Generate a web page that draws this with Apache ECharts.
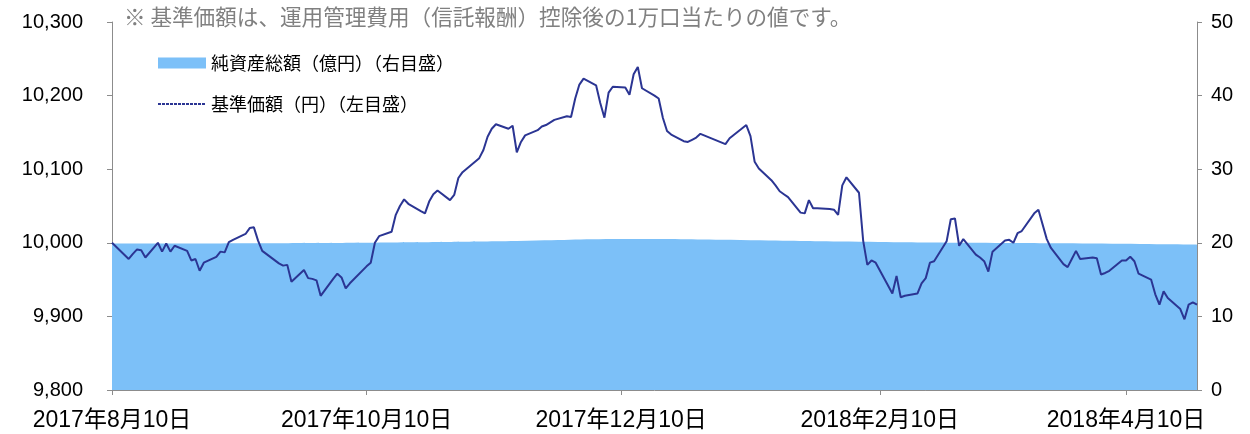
<!DOCTYPE html>
<html>
<head>
<meta charset="utf-8">
<script src="https://cdn.jsdelivr.net/npm/echarts@6/dist/echarts.min.js"></script>
<style>
html, body { margin: 0; padding: 0; background: #fff; }
#chart { width: 1250px; height: 434px; }
</style>
</head>
<body>
<div id="chart"></div>
<script>
// 営業日（月ごとの日付）
const tradingDays = [
  ['2017-08', [10, 14, 15, 16, 17, 18, 21, 22, 23, 24, 25, 28, 29, 30, 31]],
  ['2017-09', [1, 4, 5, 6, 7, 8, 11, 12, 13, 14, 15, 19, 20, 21, 22, 25, 26, 27, 28, 29]],
  ['2017-10', [2, 3, 4, 5, 6, 10, 11, 12, 13, 16, 17, 18, 19, 20, 23, 24, 25, 26, 27, 30, 31]],
  ['2017-11', [1, 2, 6, 7, 8, 9, 10, 13, 14, 15, 16, 17, 20, 21, 22, 24, 27, 28, 29, 30]],
  ['2017-12', [1, 4, 5, 6, 7, 8, 11, 12, 13, 14, 15, 18, 19, 20, 21, 22, 25, 26, 27, 28, 29]],
  ['2018-01', [4, 5, 9, 10, 11, 12, 15, 16, 17, 18, 19, 22, 23, 24, 25, 26, 29, 30, 31]],
  ['2018-02', [1, 2, 5, 6, 7, 8, 9, 13, 14, 15, 16, 19, 20, 21, 22, 23, 26, 27, 28]],
  ['2018-03', [1, 2, 5, 6, 7, 8, 9, 12, 13, 14, 15, 16, 19, 20, 22, 23, 26, 27, 28, 29, 30]],
  ['2018-04', [2, 3, 4, 5, 6, 9, 10, 11, 12, 13, 16, 17, 18, 19, 20, 23, 24, 25, 26, 27]]
];

// 基準価額（円）
const navValues = [
  // 2017-08
  10000, 9978, 9985, 9991, 9990, 9980, 10000, 9988, 9999, 9988, 9996, 9989, 9976, 9978, 9962,
  // 2017-09
  9973, 9981, 9988, 9987, 10001, 10004, 10012, 10020, 10021, 10003, 9989, 9972, 9969, 9970, 9947,
  9963, 9952, 9951, 9949, 9928,
  // 2017-10
  9951, 9958, 9953, 9938, 9945, 9968, 9973, 10000, 10009, 10015, 10038, 10050, 10059, 10053,
  10043, 10040, 10056, 10066, 10071, 10058, 10065,
  // 2017-11
  10088, 10096, 10115, 10126, 10144, 10155, 10161, 10155, 10159, 10123, 10137, 10146,
  10153, 10158, 10160, 10167, 10172, 10171, 10196, 10215,
  // 2017-12
  10223, 10214, 10190, 10170, 10204, 10212, 10211, 10201, 10229, 10239, 10210,
  10200, 10196, 10170, 10152, 10147, 10138, 10137, 10140, 10143, 10148,
  // 2018-01
  10134, 10142, 10160, 10145, 10110, 10101, 10085, 10078, 10070, 10066, 10062,
  10041, 10040, 10058, 10047, 10047, 10046, 10045, 10038,
  // 2018-02
  10078, 10089, 10068, 10003, 9970, 9976, 9973, 9931, 9955, 9926, 9928,
  9931, 9945, 9952, 9973, 9975, 10002, 10032, 10033,
  // 2018-03
  9996, 10005, 9984, 9980, 9975, 9961, 9988, 10003, 10004, 10000, 10013, 10016,
  10040, 10045, 10005, 9993, 9971, 9967, 9978, 9989, 9978,
  // 2018-04
  9980, 9979, 9957, 9959, 9962, 9976, 9976, 9981, 9975, 9958,
  9950, 9930, 9916, 9934, 9925, 9910, 9896, 9916, 9919, 9916
];

// 純資産総額（億円）
const assetDates = ['2017-08-10', '2017-09-15', '2017-10-16', '2017-11-15', '2017-12-13',
  '2018-01-10', '2018-02-05', '2018-03-05', '2018-04-02', '2018-04-27'];
const assetValues = [19.9, 19.95, 20.05, 20.25, 20.5, 20.35, 20.15, 20.0, 19.9, 19.75];

const tickDates = ['2017-08-10', '2017-10-10', '2017-12-10', '2018-02-10', '2018-04-10'];
const xMin = '2017-08-10';
const xMax = '2018-04-27';

const navName = '基準価額（円）（左目盛）';
const assetName = '純資産総額（億円）（右目盛）';

function ts(s) {
  const p = s.split('-').map(Number);
  return new Date(p[0], p[1] - 1, p[2]).getTime();
}

const navDates = [];
tradingDays.forEach(function (m) {
  m[1].forEach(function (d) {
    navDates.push(m[0] + '-' + (d < 10 ? '0' + d : d));
  });
});

const navData = navDates.map(function (d, i) { return [ts(d), navValues[i]]; });
const assetData = assetDates.map(function (d, i) { return [ts(d), assetValues[i]]; });

const numFont = "'Liberation Sans', Arial, sans-serif";
const jpFont = "'Noto Sans CJK JP', sans-serif";
const axisGray = '#8c8c8c';

const chart = echarts.init(document.getElementById('chart'), null, { renderer: 'canvas' });

chart.setOption({
  animation: false,
  title: {
    text: '※ 基準価額は、運用管理費用（信託報酬）控除後の1万口当たりの値です。',
    left: 124,
    top: 6,
    padding: 0,
    textStyle: { fontFamily: jpFont, fontSize: 21.6, fontWeight: 'normal', color: '#808080' }
  },
  legend: {
    orient: 'vertical',
    left: 157,
    top: 54,
    padding: 0,
    itemGap: 23,
    itemWidth: 48,
    itemHeight: 11,
    textStyle: { fontFamily: jpFont, fontSize: 18, color: '#000' },
    data: [
      { name: assetName, icon: 'rect' },
      { name: navName, itemStyle: { opacity: 0 }, lineStyle: { width: 2, type: [3, 1] } }
    ]
  },
  grid: { left: 112, right: 53, top: 22, bottom: 44 },
  xAxis: {
    // 日付はタイムスタンプの数値軸で扱う
    type: 'value',
    min: ts(xMin),
    max: ts(xMax),
    axisLine: { lineStyle: { color: axisGray } },
    axisTick: {
      show: true,
      length: 5,
      customValues: tickDates.map(ts),
      lineStyle: { color: axisGray }
    },
    splitLine: { show: false },
    axisLabel: {
      customValues: tickDates.map(ts),
      margin: 19,
      fontFamily: numFont + ", 'Noto Sans CJK JP'",
      fontSize: 23,
      color: '#000',
      formatter: function (v) {
        const d = new Date(v);
        return d.getFullYear() + '年' + (d.getMonth() + 1) + '月' + d.getDate() + '日';
      }
    }
  },
  yAxis: [
    {
      type: 'value',
      position: 'left',
      min: 9800,
      max: 10300,
      interval: 100,
      axisLine: { show: true, lineStyle: { color: axisGray } },
      axisTick: { show: true, length: 5, lineStyle: { color: axisGray } },
      splitLine: { show: false },
      axisLabel: {
        margin: 29,
        fontFamily: numFont,
        fontSize: 20,
        color: '#000',
        formatter: function (v) { return v.toLocaleString('en-US'); }
      }
    },
    {
      type: 'value',
      position: 'right',
      min: 0,
      max: 50,
      interval: 10,
      axisLine: { show: true, lineStyle: { color: axisGray } },
      axisTick: { show: true, length: 5, lineStyle: { color: axisGray } },
      splitLine: { show: false },
      axisLabel: { margin: 14, fontFamily: numFont, fontSize: 20, color: '#000' }
    }
  ],
  series: [
    {
      name: assetName,
      type: 'line',
      yAxisIndex: 1,
      data: assetData,
      smooth: true,
      symbol: 'none',
      color: '#7cc0f8',
      lineStyle: { width: 0 },
      areaStyle: { color: '#7cc0f8', opacity: 1 },
      z: 1
    },
    {
      name: navName,
      type: 'line',
      yAxisIndex: 0,
      data: navData,
      symbol: 'none',
      color: '#2b3593',
      lineStyle: { width: 2, color: '#2b3593' },
      z: 3
    }
  ]
});
</script>
</body>
</html>
